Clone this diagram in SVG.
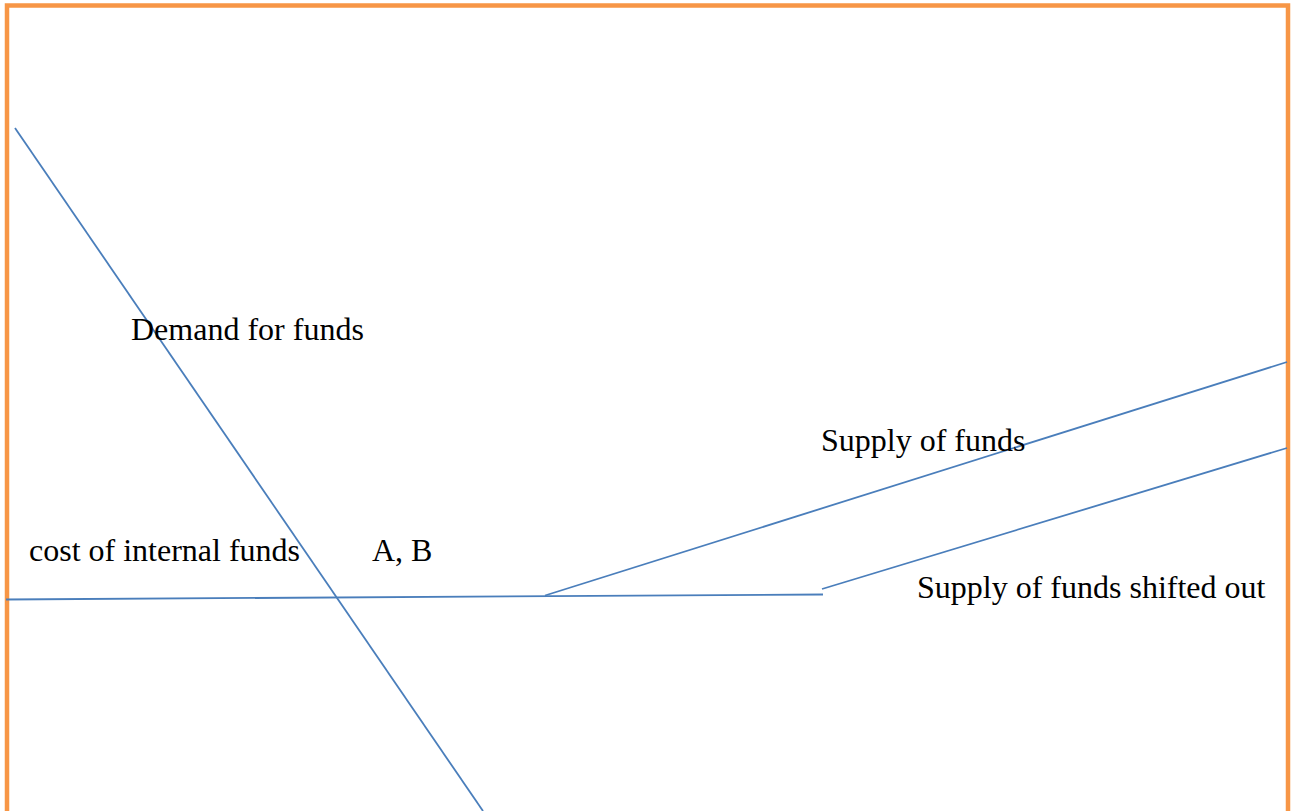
<svg xmlns="http://www.w3.org/2000/svg" width="1294" height="811" viewBox="0 0 1294 811">
<style>
.ln{stroke:#4a7ebb;stroke-width:1.8;fill:none}
.t{font-family:"Liberation Serif","Times New Roman",serif;font-size:32px;fill:#000}
</style>
<rect width="1294" height="811" fill="#fff"/>
<g id="frame"><path d="M7 815 V5.5 H1288 V815" fill="none" stroke="#f79646" stroke-width="4.5"/></g>
<g id="connectors">
<line class="ln" x1="15" y1="128" x2="483" y2="811"/>
<line class="ln" x1="6" y1="599.5" x2="823" y2="594.5"/>
<line class="ln" x1="545" y1="595.5" x2="1287" y2="362"/>
<line class="ln" x1="822" y1="589" x2="1287" y2="448"/>
</g>
<g id="demand"><text class="t" x="131" y="340">Demand for funds</text></g>
<g id="cost"><text class="t" x="29" y="561">cost of internal funds</text></g>
<g id="ab"><text class="t" x="372" y="561">A, B</text></g>
<g id="supply"><text class="t" x="821" y="451">Supply of funds</text></g>
<g id="shifted"><text class="t" x="917" y="598">Supply of funds shifted out</text></g>
</svg>
